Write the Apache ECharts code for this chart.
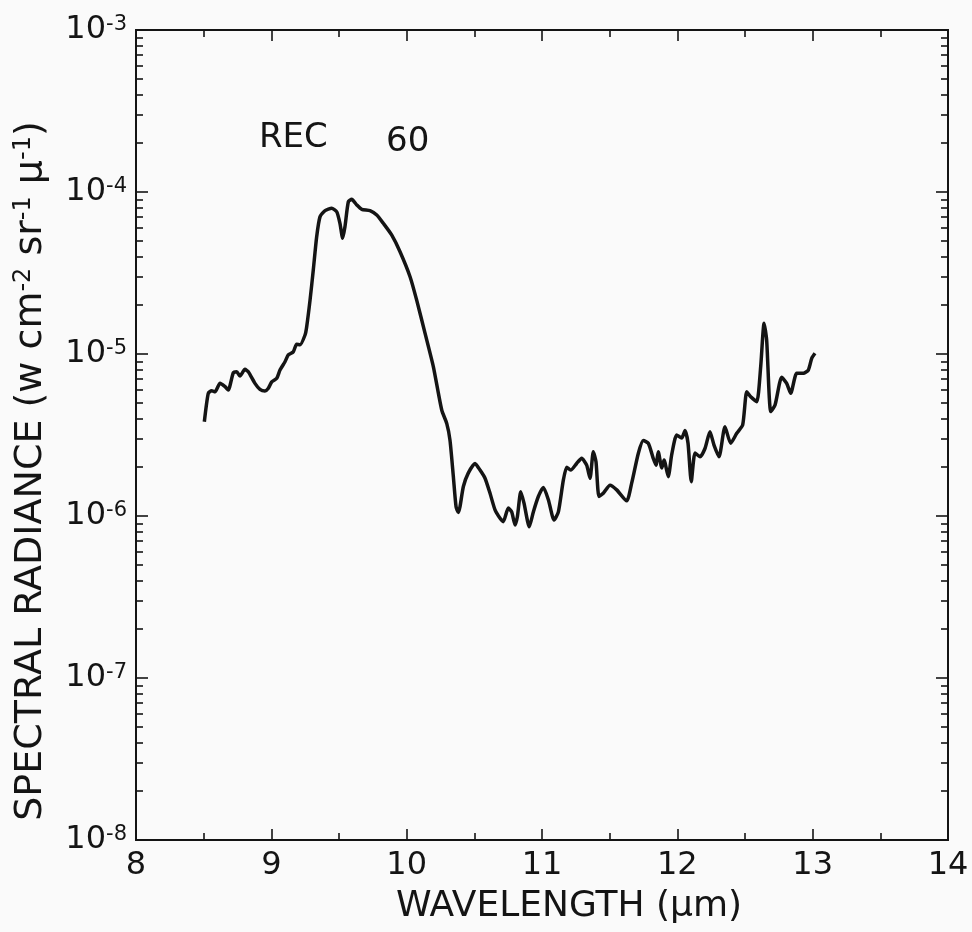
<!DOCTYPE html>
<html>
<head>
<meta charset="utf-8">
<script src="https://cdn.jsdelivr.net/npm/echarts@6/dist/echarts.min.js"></script>
<style>
  html, body { margin: 0; padding: 0; background: #fafafa; }
  #chart { width: 972px; height: 932px; }
</style>
</head>
<body>
<div id="chart"></div>
<script>
// Spectral radiance trace, wavelength in micrometres
const wavelength = [
  8.505, 8.534, 8.559, 8.584, 8.621, 8.658, 8.682, 8.719, 8.744, 8.768,
  8.805, 8.830, 8.879, 8.916, 8.953, 8.978, 9.003, 9.040, 9.064, 9.101,
  9.125, 9.162, 9.187, 9.212, 9.249, 9.261, 9.286, 9.310, 9.335, 9.360,
  9.397, 9.446, 9.483, 9.507, 9.527, 9.544, 9.569, 9.594, 9.631, 9.668,
  9.729, 9.779, 9.827, 9.889, 9.951, 10.025, 10.074, 10.136, 10.197, 10.259,
  10.296, 10.320, 10.345, 10.365, 10.382, 10.394, 10.419, 10.455, 10.505, 10.542,
  10.579, 10.616, 10.653, 10.690, 10.714, 10.751, 10.776, 10.801, 10.818, 10.843,
  10.867, 10.906, 10.936, 10.973, 11.010, 11.047, 11.089, 11.121, 11.158, 11.183,
  11.212, 11.256, 11.293, 11.330, 11.355, 11.379, 11.399, 11.421, 11.453, 11.503,
  11.552, 11.626, 11.663, 11.712, 11.749, 11.786, 11.822, 11.842, 11.859, 11.885,
  11.902, 11.933, 11.958, 11.995, 12.032, 12.057, 12.079, 12.103, 12.131, 12.168,
  12.205, 12.241, 12.271, 12.308, 12.352, 12.394, 12.439, 12.483, 12.513, 12.542,
  12.587, 12.616, 12.641, 12.660, 12.690, 12.722, 12.771, 12.808, 12.838, 12.882,
  12.931, 12.968, 12.993, 13.017
];

// Radiance in W cm^-2 sr^-1 um^-1
const radiance = [
  3.82e-6, 5.72e-6, 5.93e-6, 5.85e-6, 6.59e-6, 6.28e-6, 6.0e-6, 7.66e-6, 7.77e-6, 7.31e-6,
  8.04e-6, 7.77e-6, 6.59e-6, 6.05e-6, 5.91e-6, 6.14e-6, 6.74e-6, 7.08e-6, 7.96e-6, 8.96e-6,
  9.86e-6, 1.03e-5, 1.15e-5, 1.14e-5, 1.31e-5, 1.47e-5, 2.15e-5, 3.30e-5, 5.30e-5, 7.05e-5,
  7.67e-5, 7.93e-5, 7.55e-5, 6.41e-5, 5.18e-5, 6.1e-5, 8.71e-5, 9.01e-5, 8.32e-5, 7.82e-5,
  7.67e-5, 7.21e-5, 6.41e-5, 5.43e-5, 4.28e-5, 3.0e-5, 2.15e-5, 1.34e-5, 8.36e-6, 4.51e-6,
  3.73e-6, 2.94e-6, 1.75e-6, 1.14e-6, 1.05e-6, 1.14e-6, 1.52e-6, 1.84e-6, 2.11e-6, 1.92e-6,
  1.71e-6, 1.38e-6, 1.09e-6, 9.68e-7, 9.23e-7, 1.12e-6, 1.06e-6, 8.80e-7, 9.9e-7, 1.41e-6,
  1.20e-6, 8.59e-7, 1.06e-6, 1.32e-6, 1.50e-6, 1.26e-6, 9.44e-7, 1.06e-6, 1.67e-6, 2.0e-6,
  1.92e-6, 2.11e-6, 2.27e-6, 2.06e-6, 1.71e-6, 2.49e-6, 2.16e-6, 1.32e-6, 1.38e-6, 1.55e-6,
  1.45e-6, 1.24e-6, 1.60e-6, 2.44e-6, 2.92e-6, 2.81e-6, 2.27e-6, 2.06e-6, 2.49e-6, 1.98e-6,
  2.22e-6, 1.75e-6, 2.38e-6, 3.16e-6, 3.03e-6, 3.37e-6, 2.81e-6, 1.63e-6, 2.45e-6, 2.32e-6,
  2.62e-6, 3.31e-6, 2.74e-6, 2.32e-6, 3.56e-6, 2.81e-6, 3.24e-6, 3.65e-6, 5.85e-6, 5.45e-6,
  5.08e-6, 8.36e-6, 1.55e-5, 1.22e-5, 4.41e-6, 4.84e-6, 7.18e-6, 6.59e-6, 5.72e-6, 7.60e-6,
  7.60e-6, 7.96e-6, 9.40e-6, 1.01e-5
];

// Axis ranges and tick labels
const xTicks = [8, 9, 10, 11, 12, 13, 14];
const decades = [1e-8, 1e-7, 1e-6, 1e-5, 1e-4, 1e-3];
const recordLabel = ['REC', '60'];

const FONT = '"DejaVu Sans", "Liberation Sans", sans-serif';
const INK = '#141414';

// log-spaced minor ticks (2..9 within each decade)
const minorValues = [];
for (let i = 0; i < decades.length - 1; i++) {
  for (let k = 2; k <= 9; k++) minorValues.push(+(k * decades[i]).toPrecision(3));
}

function yAxis(position, tickValues, tickLen, withLabels) {
  const ax = {
    type: 'log',
    logBase: 10,
    min: decades[0],
    max: decades[decades.length - 1],
    position: position,
    axisLine: { show: true, onZero: false, lineStyle: { color: INK, width: 2 } },
    axisTick: { show: true, inside: true, length: tickLen, customValues: tickValues,
                lineStyle: { color: INK, width: 1.6 } },
    minorTick: { show: false },
    splitLine: { show: false },
    minorSplitLine: { show: false },
    axisLabel: { show: false }
  };
  if (withLabels) {
    ax.axisLabel = {
      show: true,
      customValues: decades,
      margin: 9,
      formatter: function (v) {
        const e = Math.round(Math.log10(v));
        return '{b|10}{s|' + (e < 0 ? '-' : '') + Math.abs(e) + '}';
      },
      rich: {
        b: { fontFamily: FONT, fontSize: 32, color: INK, verticalAlign: 'middle' },
        s: { fontFamily: FONT, fontSize: 21, color: INK, verticalAlign: 'top' }
      }
    };
    ax.name = '{t|SPECTRAL RADIANCE (w cm}{s|-2}{t| sr}{s|-1}{t| μ}{s|-1}{t|)}';
    ax.nameLocation = 'middle';
    ax.nameRotate = 90;
    ax.nameGap = 86;
    ax.nameTextStyle = {
      padding: [0, 72, 0, 0],
      rich: {
        t: { fontFamily: FONT, fontSize: 38, color: INK, verticalAlign: 'middle' },
        s: { fontFamily: FONT, fontSize: 24, color: INK, verticalAlign: 'top' }
      }
    };
  }
  return ax;
}

function xAxis(position, withLabels) {
  const ax = {
    type: 'value',
    min: xTicks[0],
    max: xTicks[xTicks.length - 1],
    interval: 1,
    position: position,
    axisLine: { show: true, onZero: false, lineStyle: { color: INK, width: 2 } },
    axisTick: { show: true, inside: true, length: 11, lineStyle: { color: INK, width: 1.6 } },
    minorTick: { show: true, splitNumber: 2, length: 7, lineStyle: { color: INK, width: 1.6 } },
    splitLine: { show: false },
    minorSplitLine: { show: false },
    axisLabel: { show: false }
  };
  if (withLabels) {
    ax.axisLabel = { show: true, margin: 10, fontFamily: FONT, fontSize: 32, color: INK };
    ax.name = 'WAVELENGTH (μm)';
    ax.nameLocation = 'middle';
    ax.nameGap = 49;
    ax.nameTextStyle = { fontFamily: FONT, fontSize: 36, color: INK, padding: [0, 0, 0, 54] };
  }
  return ax;
}

const chart = echarts.init(document.getElementById('chart'), null, { renderer: 'canvas' });

chart.setOption({
  animation: false,
  backgroundColor: '#fafafa',
  grid: { left: 136, right: 24, top: 30, bottom: 92, containLabel: false, outerBoundsMode: 'none' },
  xAxis: [xAxis('bottom', true), xAxis('top', false)],
  yAxis: [
    yAxis('left', decades, 12, true),
    yAxis('left', minorValues, 7, false),
    yAxis('right', decades, 12, false),
    yAxis('right', minorValues, 7, false)
  ],
  graphic: [
    { type: 'text', left: 259, top: 121, silent: true,
      style: { text: recordLabel[0], font: '34px ' + FONT, fill: INK } },
    { type: 'text', left: 386, top: 125, silent: true,
      style: { text: recordLabel[1], font: '34px ' + FONT, fill: INK } }
  ],
  series: [{
    type: 'line',
    xAxisIndex: 0,
    yAxisIndex: 0,
    data: wavelength.map(function (w, i) { return [w, radiance[i]]; }),
    showSymbol: false,
    smooth: 0.2,
    silent: true,
    lineStyle: { color: INK, width: 3.5 }
  }]
});
</script>
</body>
</html>
